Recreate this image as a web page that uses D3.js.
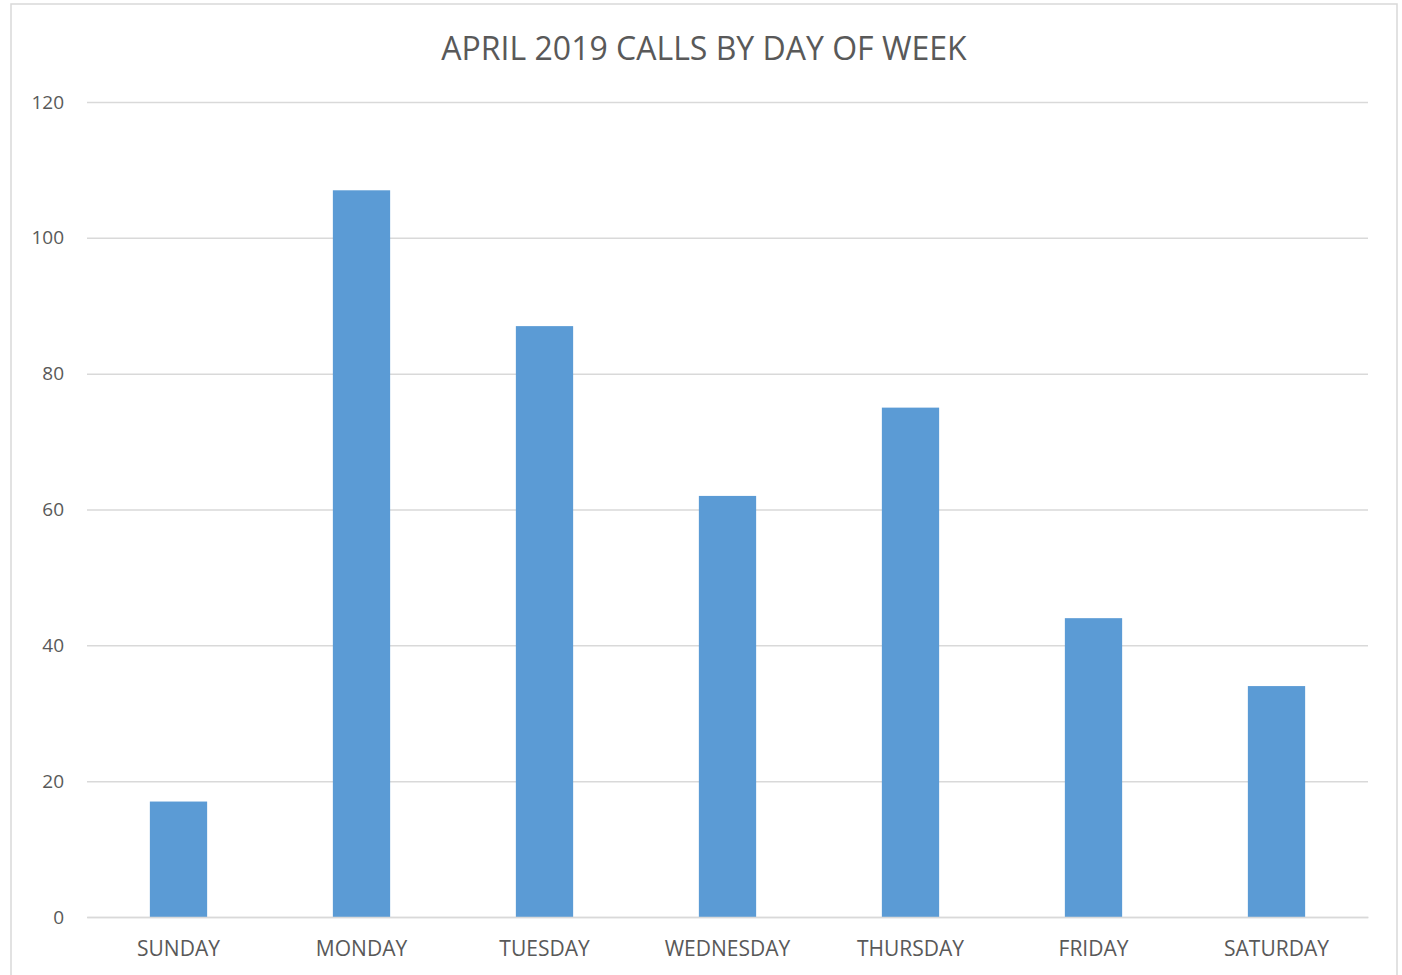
<!DOCTYPE html>
<html><head><meta charset="utf-8">
<script src="https://cdn.jsdelivr.net/npm/d3@7"></script>
<style>body{margin:0;background:#fff}</style>
</head><body>
<script>
const categories = ["SUNDAY","MONDAY","TUESDAY","WEDNESDAY","THURSDAY","FRIDAY","SATURDAY"];
const values = [17,107,87,62,75,44,34];
const yTicks = [0,20,40,60,80,100,120];
const title = "APRIL 2019 CALLS BY DAY OF WEEK";

const W = 1402, H = 975;
const svg = d3.select("body").append("svg").attr("width", W).attr("height", H);
const font = "Open Sans, sans-serif";

svg.append("rect").attr("x", 11).attr("y", 4).attr("width", 1386).attr("height", 985)
  .attr("fill", "#fff").attr("stroke", "#d9d9d9").attr("stroke-width", 1.5);

const x = d3.scaleBand().domain(categories).range([87, 1368]).paddingInner(0.687).paddingOuter(0.3435);
const y = d3.scaleLinear().domain([0, 120]).range([917, 102]);

svg.append("text").attr("x", 704).attr("y", 60).attr("text-anchor", "middle")
  .attr("font-family", font).attr("font-size", 32).attr("fill", "#595959").text(title);

const yAxis = d3.axisLeft(y).tickValues(yTicks).tickSize(-(1368 - 87)).tickPadding(23);
const gy = svg.append("g").attr("transform", "translate(87,0)").call(yAxis);
gy.select(".domain").remove();
gy.selectAll(".tick line").attr("stroke", "#d9d9d9").attr("stroke-width", 1.5);
gy.selectAll(".tick text").attr("font-family", font).attr("font-size", 19).attr("fill", "#595959");

svg.append("g").selectAll("rect").data(values).join("rect")
  .attr("x", (d, i) => x(categories[i])).attr("width", x.bandwidth())
  .attr("y", d => y(d)).attr("height", d => y(0) - y(d)).attr("fill", "#5b9bd5");

const xAxis = d3.axisBottom(x).tickSize(0).tickPadding(24);
const gx = svg.append("g").attr("transform", "translate(0,917)").call(xAxis);
gx.select(".domain").attr("stroke", "#d9d9d9").attr("stroke-width", 1.5);
gx.selectAll(".tick text").attr("font-family", font).attr("font-size", 21).attr("fill", "#595959");
</script>
</body></html>
